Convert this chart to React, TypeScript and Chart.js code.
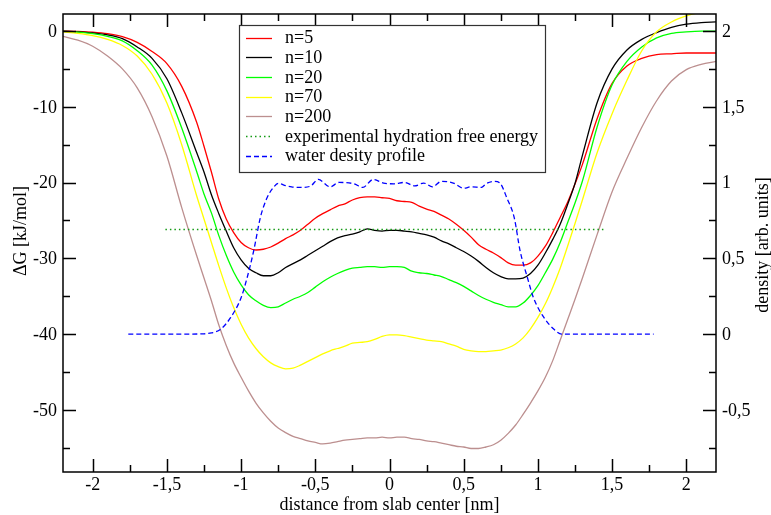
import React, { useEffect, useRef } from "react";
import { Chart, registerables } from "chart.js";

Chart.register(...registerables);

// ---------- data ----------
const X_GRID = [
  -2.2, -2.1, -2.0, -1.9, -1.8, -1.7, -1.6, -1.5, -1.4, -1.3,
  -1.25, -1.2, -1.15, -1.1, -1.05, -1.0, -0.95, -0.9, -0.85, -0.8,
  -0.75, -0.7, -0.65, -0.6, -0.55, -0.5, -0.45, -0.4, -0.35, -0.3,
  -0.25, -0.2, -0.15, -0.1, -0.05, 0, 0.05, 0.1, 0.15, 0.2,
  0.25, 0.3, 0.35, 0.4, 0.45, 0.5, 0.55, 0.6, 0.65, 0.7,
  0.75, 0.8, 0.85, 0.9, 0.95, 1.0, 1.05, 1.1, 1.15, 1.2,
  1.25, 1.3, 1.4, 1.5, 1.6, 1.7, 1.8, 1.9, 2.0, 2.1, 2.2,
];

const G_N5 = [
  0, -0.05, -0.15, -0.35, -0.75, -1.5, -2.7, -4.3, -7.3, -12.0,
  -15.2, -18.6, -22.2, -24.8, -26.6, -27.9, -28.6, -28.9, -28.8, -28.5,
  -28.0, -27.4, -26.9, -26.3, -25.5, -24.7, -24.1, -23.6, -23.1, -22.8,
  -22.3, -22.0, -21.9, -21.9, -22.0, -22.1, -22.4, -22.5, -22.6, -23.1,
  -23.5, -23.8, -24.3, -24.8, -25.5, -26.3, -27.2, -28.2, -28.8, -29.3,
  -29.9, -30.6, -30.9, -30.9, -30.6, -29.7, -28.4, -26.6, -24.6, -22.6,
  -20.2, -17.6, -11.5, -6.9, -4.6, -3.6, -3.1, -3.0, -2.9, -2.9, -2.9,
];

const G_N10 = [
  0, -0.1, -0.25, -0.5, -1.0, -2.1, -3.6, -6.3, -10.8, -16.0,
  -18.6, -21.6, -24.1, -26.4, -28.6, -30.2, -31.3, -31.9, -32.3, -32.3,
  -31.9, -31.2, -30.7, -30.2, -29.6, -29.0, -28.4, -27.8, -27.3, -27.0,
  -26.8, -26.5, -26.1, -26.3, -26.4, -26.3, -26.3, -26.4, -26.5, -26.7,
  -26.9, -27.2, -27.7, -28.1, -28.6, -29.1, -29.7, -30.4, -31.2, -31.9,
  -32.4, -32.7, -32.7, -32.6, -32.0, -30.9, -29.3, -27.5, -25.5, -22.9,
  -20.1, -16.4, -9.4, -5.0, -2.5, -1.1, -0.2, 0.5, 0.9, 1.1, 1.2,
];

const G_N20 = [
  -0.05, -0.15, -0.35, -0.7, -1.3, -2.6, -4.5, -7.9, -12.8, -18.5,
  -21.5, -24.0, -27.0, -29.6, -31.8, -33.5, -34.8, -35.6, -36.2, -36.5,
  -36.4, -35.9, -35.4, -35.0, -34.5, -33.8, -33.1, -32.5, -32.0, -31.6,
  -31.3, -31.2, -31.1, -31.1, -31.2, -31.1, -31.1, -31.2, -31.7, -31.9,
  -32.0, -32.2, -32.4, -32.8, -33.2, -33.7, -34.3, -34.9, -35.4, -35.8,
  -36.1, -36.4, -36.4, -35.9, -34.9, -33.6, -31.9, -30.1, -27.9, -25.3,
  -22.7, -19.8, -12.6, -7.1, -4.0, -2.1, -0.9, -0.3, -0.1, 0.0, 0.0,
];

const G_N70 = [
  -0.1, -0.3, -0.6, -1.1, -1.9, -3.3, -5.7, -9.5, -15.0, -21.7,
  -24.8, -27.9, -31.0, -33.9, -36.5, -38.7, -40.5, -41.9, -43.0, -43.8,
  -44.3, -44.6, -44.5, -44.1, -43.6, -43.1, -42.6, -42.2, -41.9, -41.6,
  -41.2, -41.1, -41.0, -40.7, -40.3, -40.1, -40.1, -40.2, -40.4, -40.6,
  -40.8, -40.9, -41.0, -41.3, -41.6, -42.0, -42.2, -42.3, -42.3, -42.2,
  -42.1, -41.8, -41.3, -40.5, -39.3, -37.8, -36.0, -33.8, -31.3, -28.4,
  -25.4, -22.3, -16.0, -10.9, -6.5, -2.6, -0.1, 1.2, 2.0, 2.5, 2.9,
];

const G_N200 = [
  -0.7, -1.2, -2.0, -3.3, -5.0, -7.5, -11.3, -16.5, -23.3, -29.6,
  -32.6, -35.6, -38.8, -41.5, -43.8, -45.7, -47.5, -49.1, -50.4, -51.5,
  -52.4, -53.0, -53.5, -53.8, -54.1, -54.3, -54.5, -54.4, -54.2, -54.0,
  -53.9, -53.8, -53.7, -53.7, -53.6, -53.7, -53.6, -53.6, -53.8, -53.9,
  -54.1, -54.2, -54.4, -54.6, -54.8, -54.9, -55.1, -55.1, -54.9, -54.6,
  -54.0, -53.1, -52.0, -50.6, -49.1, -47.5, -45.7, -43.5, -40.8, -38.1,
  -35.4, -32.6, -26.8, -21.2, -16.8, -12.7, -9.2, -6.6, -5.1, -4.4, -4.0,
];

const EXP_X = [-1.51, 1.46];
const EXP_G = [-26.2, -26.2];

const DENS_X = [
  -1.76, -1.6, -1.4, -1.25, -1.2, -1.14, -1.07, -1.0, -0.96, -0.915,
  -0.87, -0.825, -0.78, -0.75, -0.7, -0.66, -0.59, -0.53, -0.48, -0.4,
  -0.34, -0.24, -0.18, -0.11, -0.04, 0.03, 0.1, 0.17, 0.23, 0.29,
  0.35, 0.43, 0.5, 0.55, 0.62, 0.65, 0.71, 0.75, 0.79, 0.84,
  0.88, 0.93, 0.97, 1.04, 1.11, 1.16, 1.3, 1.5, 1.78,
];
const DENS_Y = [
  0, 0, 0, 0.002, 0.008, 0.03, 0.11, 0.24, 0.37, 0.55,
  0.77, 0.9, 0.97, 0.995, 0.98, 0.972, 0.968, 0.978, 1.021, 0.972,
  1.001, 0.992, 0.968, 1.021, 0.997, 0.992, 1.001, 0.978, 0.997, 0.972,
  1.008, 0.997, 0.963, 0.972, 0.968, 0.992, 1.008, 0.99, 0.9, 0.77,
  0.55, 0.37, 0.24, 0.11, 0.03, 0.0, 0, 0, 0,
];

const LABELS = [
  "n=5",
  "n=10",
  "n=20",
  "n=70",
  "n=200",
  "experimental hydration free energy",
  "water desity profile",
];

const X_MAJOR = [-2, -1.5, -1, -0.5, 0, 0.5, 1, 1.5, 2];
const X_MINOR = [-1.75, -1.25, -0.75, -0.25, 0.25, 0.75, 1.25, 1.75];
const Y_MAJOR = [0, -10, -20, -30, -40, -50];
const Y_MINOR = [-5, -15, -25, -35, -45, -55];
const Y2_MAJOR = [-0.5, 0, 0.5, 1, 1.5, 2];
const Y2_MINOR = [-0.75, -0.25, 0.25, 0.75, 1.25, 1.75];

const X_TITLE = "distance from slab center [nm]";
const Y_TITLE = "\u0394G [kJ/mol]";
const Y2_TITLE = "density [arb. units]";

const FONT = '"Liberation Serif", "Times New Roman", serif';

const fmt = (v: number | string) => String(Number(v)).replace(".", ",");
const pts = (xs: number[], ys: number[]) => xs.map((x, i) => ({ x, y: ys[i] }));

const decorPlugin = {
  id: "decor",
  afterDatasetsDraw(chart: any) {
    const { ctx, chartArea: a, scales } = chart;
    ctx.save();
    ctx.strokeStyle = "#000";
    ctx.lineWidth = 1.5;
    ctx.setLineDash([]);
    ctx.strokeRect(a.left, a.top, a.right - a.left, a.bottom - a.top);
    const MAJ = 13;
    const MIN = 7;
    ctx.beginPath();
    const xt = (vals: number[], len: number) => {
      vals.forEach((v) => {
        const px = Math.round(scales.x.getPixelForValue(v)) + 0.5;
        ctx.moveTo(px, a.bottom);
        ctx.lineTo(px, a.bottom - len);
        ctx.moveTo(px, a.top);
        ctx.lineTo(px, a.top + len);
      });
    };
    xt(X_MAJOR, MAJ);
    xt(X_MINOR, MIN);
    const yt = (vals: number[], len: number) => {
      vals.forEach((v) => {
        const py = Math.round(scales.y.getPixelForValue(v)) + 0.5;
        ctx.moveTo(a.left, py);
        ctx.lineTo(a.left + len, py);
      });
    };
    yt(Y_MAJOR, MAJ);
    yt(Y_MINOR, MIN);
    const y2t = (vals: number[], len: number) => {
      vals.forEach((v) => {
        const py = Math.round(scales.y2.getPixelForValue(v)) + 0.5;
        ctx.moveTo(a.right, py);
        ctx.lineTo(a.right - len, py);
      });
    };
    y2t(Y2_MAJOR, MAJ);
    y2t(Y2_MINOR, MIN);
    ctx.stroke();

    // tick labels
    ctx.font = `18px ${FONT}`;
    ctx.fillStyle = "#000";
    ctx.textBaseline = "middle";
    ctx.textAlign = "center";
    X_MAJOR.forEach((v) => {
      ctx.fillText(fmt(v), scales.x.getPixelForValue(v), a.bottom + 13);
    });
    ctx.textAlign = "right";
    Y_MAJOR.forEach((v) => {
      ctx.fillText(fmt(v), a.left - 6, scales.y.getPixelForValue(v) + 1);
    });
    ctx.textAlign = "left";
    Y2_MAJOR.forEach((v) => {
      ctx.fillText(fmt(v), a.right + 6, scales.y2.getPixelForValue(v) + 1);
    });

    // legend
    const lx = 239.5;
    const ly = 25.5;
    const lw = 306;
    const lh = 147;
    ctx.fillStyle = "#fff";
    ctx.fillRect(lx, ly, lw, lh);
    ctx.strokeStyle = "#333";
    ctx.lineWidth = 1.2;
    ctx.strokeRect(lx, ly, lw, lh);
    ctx.textBaseline = "middle";
    ctx.textAlign = "left";
    chart.data.datasets.forEach((ds: any, i: number) => {
      const cy = 37.5 + i * 19.7;
      ctx.beginPath();
      ctx.strokeStyle = ds.borderColor;
      ctx.lineWidth = ds.borderWidth;
      ctx.setLineDash(ds.borderDash || []);
      ctx.moveTo(246, Math.round(cy) + 0.5);
      ctx.lineTo(272, Math.round(cy) + 0.5);
      ctx.stroke();
      ctx.setLineDash([]);
      ctx.fillStyle = "#000";
      ctx.fillText(ds.label, 285, cy + 1);
    });

    // axis titles
    ctx.fillStyle = "#000";
    ctx.textAlign = "center";
    ctx.textBaseline = "middle";
    ctx.fillText(X_TITLE, (a.left + a.right) / 2, 505);
    ctx.save();
    ctx.translate(21, 231);
    ctx.rotate(-Math.PI / 2);
    ctx.fillText(Y_TITLE, 0, 0);
    ctx.restore();
    ctx.save();
    ctx.translate(763, 245);
    ctx.rotate(-Math.PI / 2);
    ctx.fillText(Y2_TITLE, 0, 0);
    ctx.restore();
    ctx.restore();
  },
};

export default function App() {
  const ref = useRef<HTMLCanvasElement | null>(null);
  useEffect(() => {
    if (!ref.current) return;
    const curveColors = ["#ff0000", "#000000", "#00ff00", "#ffff00", "#bc8f8f"];
    const curves = [G_N5, G_N10, G_N20, G_N70, G_N200];
    const datasets: any[] = curves.map((g, i) => ({
      label: LABELS[i],
      data: pts(X_GRID, g),
      borderColor: curveColors[i],
      borderWidth: 1.3,
      pointRadius: 0,
      tension: 0,
      cubicInterpolationMode: "monotone",
      fill: false,
      yAxisID: "y",
      order: 10 - i,
    }));
    datasets.push({
      label: LABELS[5],
      data: pts(EXP_X, EXP_G),
      borderColor: "#149a14",
      borderWidth: 1.4,
      borderDash: [1.5, 3],
      pointRadius: 0,
      fill: false,
      yAxisID: "y",
      order: 4,
    });
    datasets.push({
      label: LABELS[6],
      data: pts(DENS_X, DENS_Y),
      borderColor: "#0000ff",
      borderWidth: 1.3,
      borderDash: [5, 3],
      pointRadius: 0,
      cubicInterpolationMode: "monotone",
      fill: false,
      yAxisID: "y2",
      order: 3,
    });

    const hidden = { display: false };
    const chart = new Chart(ref.current, {
      type: "line",
      data: { datasets },
      plugins: [decorPlugin],
      options: {
        responsive: false,
        animation: false,
        devicePixelRatio: 1,
        layout: { padding: { top: 14, left: 0, right: 0, bottom: 0 } },
        plugins: { legend: { display: false }, tooltip: { enabled: false } },
        scales: {
          x: {
            type: "linear",
            position: "bottom",
            min: -2.2,
            max: 2.2,
            grid: { display: false, drawTicks: false },
            border: { display: false },
            ticks: { display: false, stepSize: 0.5 },
            afterFit: (s: any) => {
              s.height = 43;
            },
          },
          y: {
            type: "linear",
            position: "left",
            min: -58.2,
            max: 2.25,
            grid: { display: false, drawTicks: false },
            border: { display: false },
            ticks: { display: false, stepSize: 10 },
            afterFit: (s: any) => {
              s.width = 63;
            },
          },
          y2: {
            type: "linear",
            position: "right",
            min: -0.91,
            max: 2.1125,
            grid: { display: false, drawTicks: false },
            border: { display: false },
            ticks: { display: false, stepSize: 0.5 },
            afterFit: (s: any) => {
              s.width = 55;
            },
          },
        },
      } as any,
    });
    return () => chart.destroy();
  }, []);

  return (
    <div style={{ position: "fixed", left: 0, top: 0, width: 771, height: 515, background: "#fff" }}>
      <canvas ref={ref} width={771} height={515} style={{ width: 771, height: 515 }} />
    </div>
  );
}
